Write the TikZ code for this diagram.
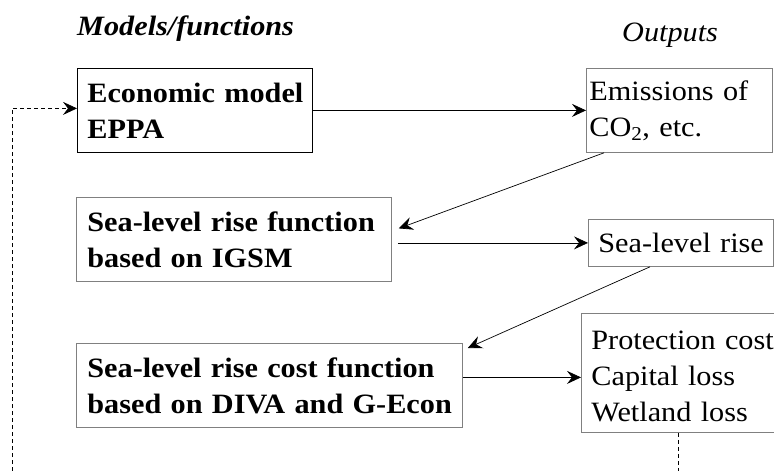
\documentclass[tikz,border=0pt]{standalone}
\usepackage{fontspec}
\setmainfont{Liberation Serif}[FakeStretch=1.08]
\usetikzlibrary{arrows.meta}

\begin{document}
\begin{tikzpicture}[x=1pt,y=-1pt,
  font=\fontsize{28}{36}\selectfont,
  box/.style={draw=black!50, line width=0.8pt, anchor=north west, inner sep=0pt, align=left,
    execute at begin node={\exhyphenpenalty=10000\hyphenpenalty=10000}},
  arr/.style={-{Stealth[length=14pt,width=13pt,inset=5pt]}, line width=0.7pt},
  fb/.style={line width=0.7pt, dash pattern=on 4pt off 3pt}]
  \useasboundingbox (0,0) rectangle (774,471);
  % column heads
  \node[anchor=base west, inner sep=0pt] (hdmodels) at (77,35) {\textbf{\textit{Models/functions}}};
  \node[anchor=base west, inner sep=0pt] (hdout) at (622,41) {\textit{Outputs}};
  % models
  \node[box, draw=black, minimum width=235, minimum height=84, text width=215] (eco) at (77,68)
    {\textbf{Economic~model}\\\textbf{EPPA}};
  \node[box, minimum width=315, minimum height=84, text width=293] (slr) at (76,197)
    {\textbf{Sea-level~rise~function}\\\textbf{based~on~IGSM}};
  \node[box, minimum width=386, minimum height=84, text width=364] (cost) at (76,343)
    {\textbf{Sea-level~rise~cost~function}\\\textbf{based~on~DIVA~and~G-Econ}};
  % outputs
  \node[box, minimum width=186, minimum height=84, text width=180] (emis) at (586,68)
    {Emissions~of\\CO\textsubscript{2},~etc.};
  \node[box, minimum width=185, minimum height=47, text width=165] (rise) at (588,219)
    {Sea-level~rise};
  \node[box, minimum width=200, minimum height=119, text width=180] (prot) at (581,313)
    {\rule{0pt}{25pt}Protection~cost\\Capital~loss\\Wetland~loss};
  \coordinate (lowedge) at (12,471);
  % connectors
  \draw[arr] (eco.east) -- (emis.west);
  \draw[arr] ([xshift=18pt]emis.south west) -- ([xshift=7pt,yshift=11pt]slr.east);
  \draw[arr] ([xshift=6pt]slr.east |- rise.west) -- (rise.west);
  \draw[arr] ([xshift=62pt]rise.south west) -- ([xshift=5pt,yshift=-5pt]cost.north east);
  \draw[arr] ([yshift=8pt]cost.east) -- ([yshift=8pt]cost.east -| prot.west);
  % feedback
  \draw[fb] ([xshift=-3pt]prot.south) -- ([xshift=-3pt]prot.south |- lowedge);
  \draw[fb, arr] (lowedge) |- ([yshift=2pt]eco.west);
\end{tikzpicture}
\end{document}
